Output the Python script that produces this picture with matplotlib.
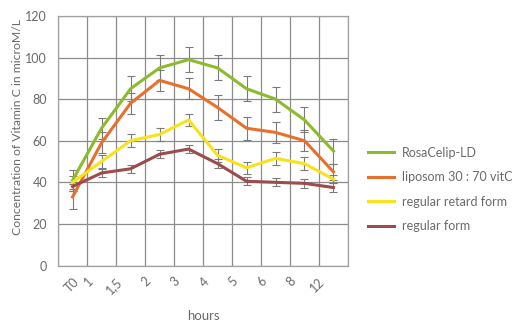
import matplotlib.pyplot as plt
import matplotlib.transforms as mtransforms
import numpy as np

# data
hours = ['T0', '1', '1,5', '2', '3', '4', '5', '6', '8', '12']

rosacelip = [41, 66, 85, 95, 99, 95, 85, 80, 70, 55]
rosacelip_err = [5, 5, 6, 6, 6, 6, 6, 6, 6, 6]

liposom = [33, 59, 78, 89, 85, 76, 66, 64, 60, 45]
liposom_err = [6, 5, 5, 5, 5, 6, 5.5, 5, 5, 4]

retard = [40, 50, 60, 63, 70, 53, 47, 51.5, 49, 41.5]
retard_err = [3, 3, 3, 3, 3, 3, 3, 3, 3, 2]

regular = [38, 44.5, 46.5, 53.5, 56, 49, 40.5, 40, 39.5, 37.5]
regular_err = [2, 2, 2, 2, 2, 2, 2, 2, 2, 2]

labels = ['RosaCelip-LD', 'liposom 30 : 70 vitC', 'regular retard form', 'regular form']
colors = ['#8cbb2c', '#e9702b', '#f8e21c', '#9c4c4b']

text_color = '#6a6a6a'
plt.rcParams['font.family'] = ['Lato', 'DejaVu Sans']

fig = plt.figure(figsize=(5.14, 3.25), dpi=100)
ax = fig.add_axes([0.113, 0.183, 0.564, 0.768])

x = np.arange(len(hours))
series = [(rosacelip, rosacelip_err), (liposom, liposom_err),
          (retard, retard_err), (regular, regular_err)]

# error bars first, lines on top
for (vals, err), col in zip(series, colors):
    ax.errorbar(x, vals, yerr=err, fmt='none', ecolor='#7a7a7a',
                elinewidth=0.8, capsize=3, capthick=0.8, zorder=2)
for (vals, err), col, lab in zip(series, colors, labels):
    ax.plot(x, vals, color=col, lw=2.2, label=lab, zorder=3)

ax.set_xlim(-0.5, len(hours) - 0.5)
ax.set_ylim(0, 120)
ax.set_yticks(np.arange(0, 121, 20))
ax.set_xticks(x)
ax.set_xticklabels(hours, rotation=45, ha='right', rotation_mode='anchor')

# vertical grid lines sit between the categories
ax.set_xticks(np.arange(-0.5, len(hours)), minor=True)
ax.grid(True, which='minor', axis='x', color='#8c8c8c', lw=0.9)
ax.grid(True, which='major', axis='y', color='#8c8c8c', lw=0.9)
ax.set_axisbelow(True)

ax.tick_params(axis='both', which='both', length=0, colors=text_color, labelsize=9)
ax.tick_params(axis='x', pad=7)
ax.tick_params(axis='y', pad=8)
for sp in ax.spines.values():
    sp.set_color('#a0a0a0')
    sp.set_linewidth(0.9)

# shift the slanted labels to the left like the original (not T0)
for i, t in enumerate(ax.get_xticklabels()):
    dx = 0 if i == 0 else -0.15
    t.set_transform(t.get_transform() + mtransforms.ScaledTranslation(dx, 0, fig.dpi_scale_trans))

ax.set_xlabel('hours', color=text_color, fontsize=9.5)
ax.xaxis.set_label_coords(0.5, -0.18)
ax.set_ylabel('Concentration of Vitamin C in microM/L', color=text_color, fontsize=8.8)
ax.yaxis.set_label_coords(-0.122, 0.555)

leg = ax.legend(loc='center left', bbox_to_anchor=(1.03, 0.305), frameon=False,
                fontsize=9, handlelength=2.1, labelspacing=1.0, handletextpad=0.6)
for t in leg.get_texts():
    t.set_color(text_color)

fig.savefig('out.png', dpi=100)
